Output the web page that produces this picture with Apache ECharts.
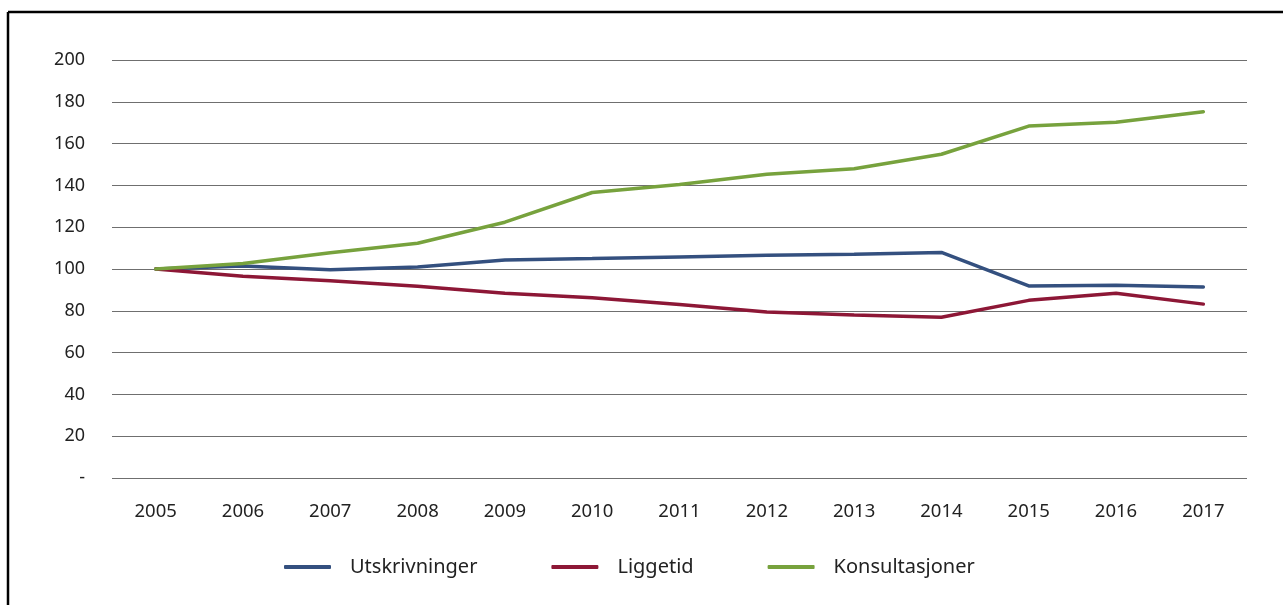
<!DOCTYPE html>
<html>
<head>
<meta charset="utf-8">
<script src="https://cdn.jsdelivr.net/npm/echarts@6/dist/echarts.min.js"></script>
<style>
  html, body { margin: 0; padding: 0; background: #fff; }
  #main { width: 1283px; height: 605px; }
</style>
</head>
<body>
<div id="main"></div>
<script>
// år
var years = ['2005','2006','2007','2008','2009','2010','2011','2012','2013','2014','2015','2016','2017'];
// indeks, 2005 = 100
var utskrivninger = [100, 101.4, 99.6, 100.9, 104.3, 105, 105.8, 106.6, 107, 107.9, 91.9, 92.2, 91.4];
var liggetid = [100, 96.5, 94.4, 91.8, 88.4, 86.2, 83, 79.4, 78, 76.9, 85, 88.4, 83.2];
var konsultasjoner = [100, 102.6, 107.8, 112.3, 122.4, 136.6, 140.4, 145.3, 148, 154.9, 168.4, 170.2, 175.2];
var yTicks = [0, 20, 40, 60, 80, 100, 120, 140, 160, 180, 200];

var myChart = echarts.init(document.getElementById('main'));
var font = 'Noto Sans';

function serie(name, data, color) {
	return {
		name: name,
		type: 'line',
		data: data,
		symbol: 'none',
		lineStyle: { width: 3.5, color: color, cap: 'round' },
		itemStyle: { color: color }
	};
}

var option = {
	animation: false,
	backgroundColor: '#fff',
	textStyle: { fontFamily: font },
	grid: { left: 112, right: 36, top: 60, bottom: 127 },
	graphic: [
		// ramme rundt figuren (bare topp og venstre synlig)
		{ type: 'line', shape: { x1: 8, y1: 12, x2: 1283, y2: 12 }, style: { stroke: '#000', lineWidth: 2.5 } },
		{ type: 'line', shape: { x1: 8, y1: 12, x2: 8, y2: 605 }, style: { stroke: '#000', lineWidth: 2.5 } }
	],
	xAxis: {
		type: 'category',
		data: years,
		boundaryGap: true,
		axisLine: { show: false },
		axisTick: { show: false },
		axisLabel: { color: '#222', fontSize: 18.5, margin: 24, fontFamily: font }
	},
	yAxis: {
		type: 'value',
		min: 0,
		max: 200,
		interval: 20,
		axisLine: { show: false },
		axisTick: { show: false },
		splitLine: { lineStyle: { color: '#6f6f6f', width: 1.2 } },
		axisLabel: {
			color: '#222', fontSize: 18, margin: 27, fontFamily: font,
			formatter: function (v) {
				if (yTicks.indexOf(v) < 0) return '';
				return v === 0 ? '-' : String(v);
			}
		}
	},
	legend: {
		bottom: 28,
		left: 284,
		padding: 0,
		itemWidth: 47,
		itemHeight: 4,
		itemGap: 74,
		icon: 'roundRect',
		textStyle: { color: '#222', fontSize: 20, fontFamily: font, padding: [0, 0, 0, 14] },
		data: ['Utskrivninger', 'Liggetid', 'Konsultasjoner']
	},
	series: [
		serie('Utskrivninger', utskrivninger, '#34507f'),
		serie('Liggetid', liggetid, '#8d1736'),
		serie('Konsultasjoner', konsultasjoner, '#77a23d')
	]
};

myChart.setOption(option);
</script>
</body>
</html>
